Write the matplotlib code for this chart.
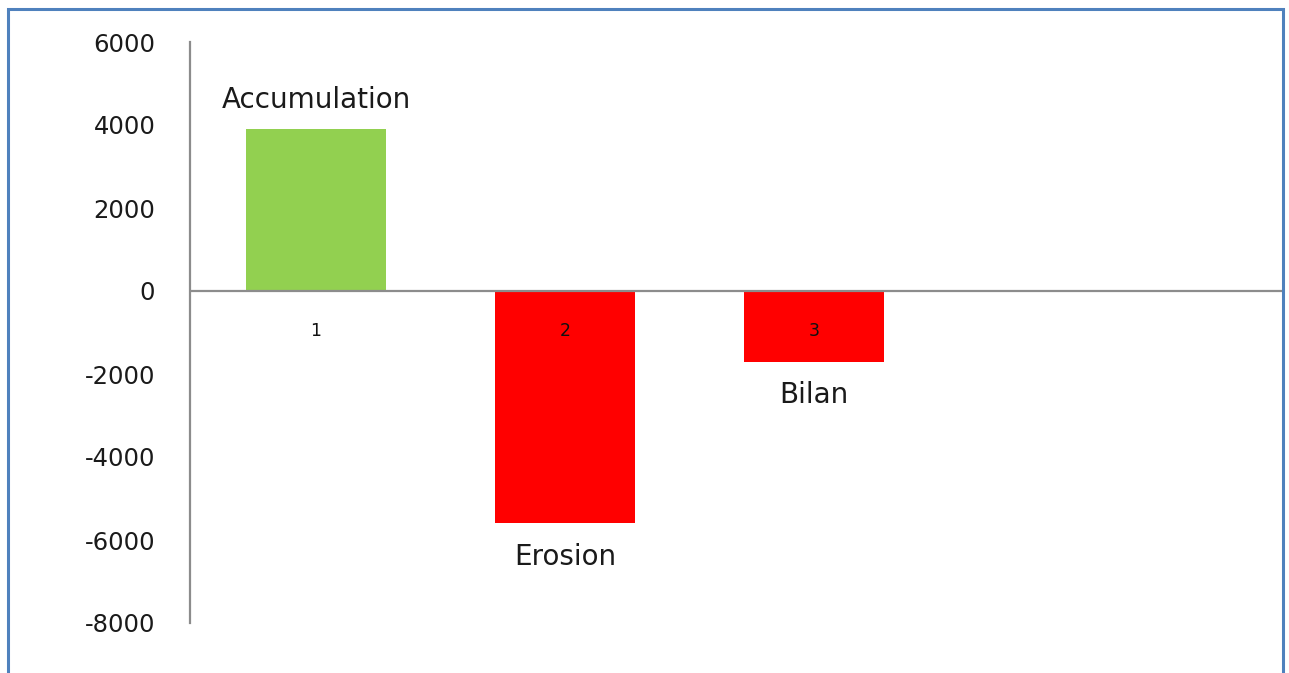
import matplotlib.pyplot as plt
from matplotlib.patches import Rectangle

# bilan sédimentaire
categories = ["1", "2", "3"]
values = [3900, -5600, -1700]
names = ["Accumulation", "Erosion", "Bilan"]
colors = ["#92D050", "#FF0000", "#FF0000"]
yticks = [-8000, -6000, -4000, -2000, 0, 2000, 4000, 6000]

plt.rcParams['font.family'] = ['DejaVu Sans']

fig = plt.figure(figsize=(12.89, 6.73), dpi=100)
ax = fig.add_axes([190 / 1289, 1 - 623 / 673, 1092 / 1289, 581 / 673])

x = list(range(1, len(values) + 1))
ax.bar(x, values, width=0.562, color=colors, zorder=2)

ax.set_xlim(0.494, 4.88)
ax.set_ylim(-8000, 6000)
ax.set_yticks(yticks)
ax.set_yticklabels([str(v) for v in yticks], fontsize=17.5, color="#1a1a1a")
ax.tick_params(axis="y", length=0, pad=25)
ax.set_xticks([])

for s in ["top", "right", "bottom"]:
    ax.spines[s].set_visible(False)
ax.spines["left"].set_color("#8c8c8c")
ax.spines["left"].set_linewidth(1.6)
ax.axhline(0, color="#8c8c8c", lw=1.6, zorder=3)

# numéros des catégories sous l'axe
for xi, c in zip(x, categories):
    ax.annotate(c, (xi, 0), xytext=(0, -29), textcoords="offset points",
                ha="center", va="center", fontsize=12.5, color="#111111", zorder=4)

# noms au bout des barres
for xi, v, n in zip(x, values, names):
    off = 21 if v > 0 else -24
    ax.annotate(n, (xi, v), xytext=(0, off), textcoords="offset points",
                ha="center", va="center", fontsize=20, color="#1a1a1a", zorder=4)

# cadre autour du graphique
fig.patches.append(Rectangle((8 / 1289, -0.05), 1275 / 1289, 1.05 - 9 / 673,
                             transform=fig.transFigure, fill=False,
                             edgecolor="#4F81BD", lw=2.2))

fig.savefig("out.png", dpi=100)
